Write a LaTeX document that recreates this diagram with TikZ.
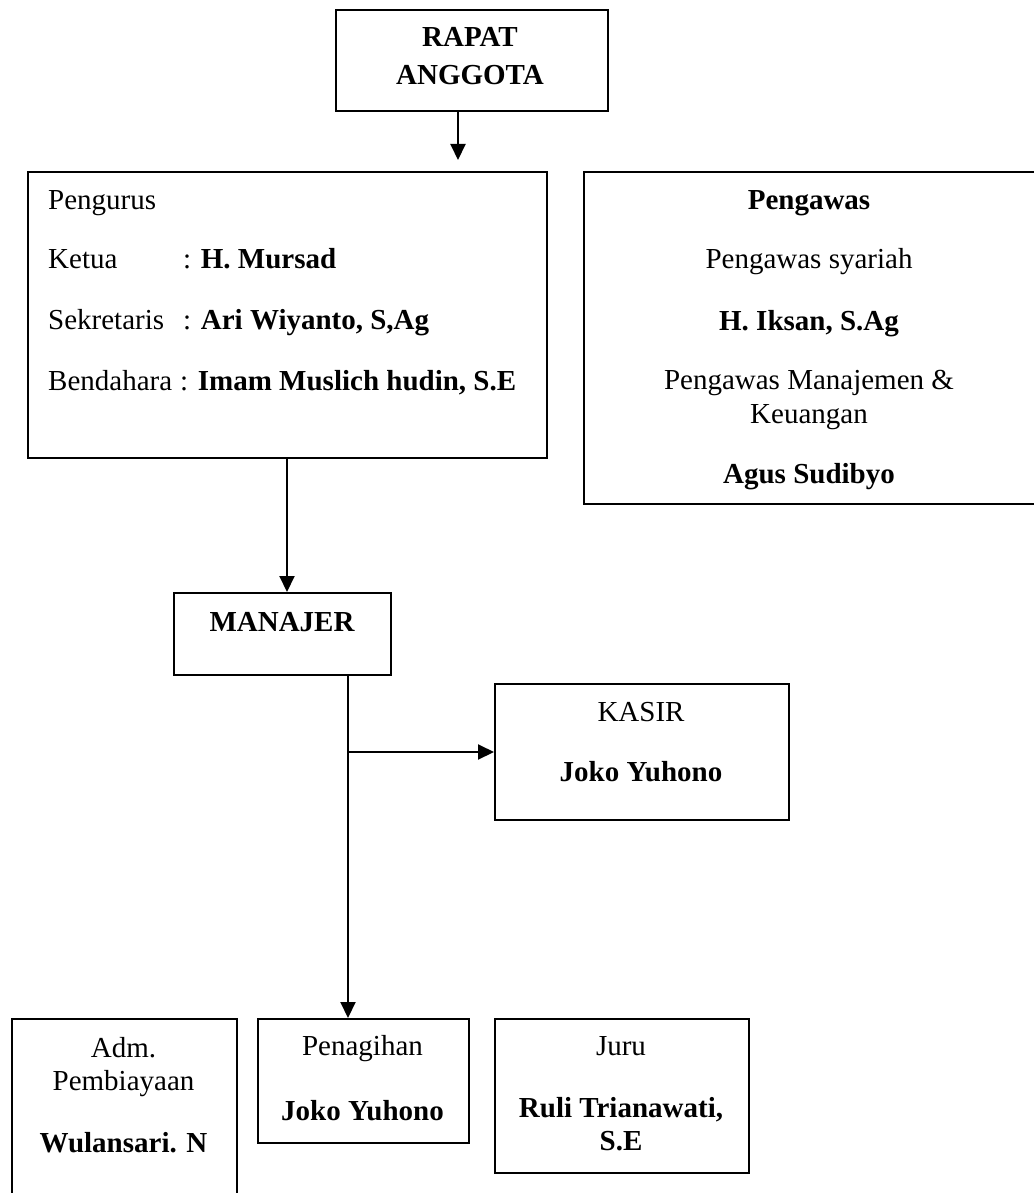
\documentclass[tikz,border=0pt]{standalone}
\usepackage{fontspec}
\setmainfont{Liberation Serif}
\usetikzlibrary{arrows.meta}
\begin{document}
\begin{tikzpicture}[x=1pt,y=-1pt,
  box/.style={draw, line width=2pt, rectangle, inner sep=0pt, anchor=north west},
  txt/.style={anchor=base, inner sep=0pt, font=\fontsize{29}{33.4}\selectfont},
  btxt/.style={txt, font=\fontsize{29}{33.4}\selectfont\bfseries},
  ltxt/.style={txt, anchor=base west},
  arr/.style={line width=2pt, -{Triangle[length=16pt,width=15pt]}}]
\useasboundingbox (0,0) rectangle (1033,1193);
% boxes
\node[box, minimum width=272pt, minimum height=101pt] (rapat) at (335,9) {};
\node[box, minimum width=519pt, minimum height=286pt] (pengurus) at (27,171) {};
\node[box, minimum width=452pt, minimum height=332pt] (pengawas) at (583,171) {};
\node[box, minimum width=217pt, minimum height=82pt] (manajer) at (173,592) {};
\node[box, minimum width=294pt, minimum height=136pt] (kasir) at (494,683) {};
\node[box, minimum width=225pt, minimum height=200pt] (adm) at (11,1018) {};
\node[box, minimum width=211pt, minimum height=124pt] (penagihan) at (257,1018) {};
\node[box, minimum width=254pt, minimum height=154pt] (juru) at (494,1018) {};
% texts
\node[btxt] (trapat1) at (470,47) {RAPAT};
\node[btxt] (trapat2) at (470,85) {ANGGOTA};
\node[ltxt] (tpeng) at (48,209) {Pengurus};
\node[ltxt] (tket) at (48,268) {Ketua};
\node[ltxt] (tketv) at (183,268) {: \textbf{H. Mursad}};
\node[ltxt] (tsek) at (48,329) {Sekretaris};
\node[ltxt] (tsekv) at (183,329) {: \textbf{Ari Wiyanto, S,Ag}};
\node[ltxt] (tben) at (48,390) {Bendahara};
\node[ltxt] (tbenv) at (180,390) {: \textbf{Imam Muslich hudin, S.E}};
\node[btxt] (tpw) at (809,209) {Pengawas};
\node[txt] (tpws) at (809,268) {Pengawas syariah};
\node[btxt] (tpwsn) at (809,330) {H. Iksan, S.Ag};
\node[txt] (tpwm1) at (809,389) {Pengawas Manajemen \&};
\node[txt] (tpwm2) at (809,423) {Keuangan};
\node[btxt] (tpwmn) at (809,483) {Agus Sudibyo};
\node[btxt] (tman) at (282,631) {MANAJER};
\node[txt] (tkas) at (641,721) {KASIR};
\node[btxt] (tkasn) at (641,781) {Joko Yuhono};
\node[txt] (tadm1) at (123.5,1057) {Adm.};
\node[txt] (tadm2) at (123.5,1090) {Pembiayaan};
\node[btxt] (tadmn) at (123.5,1152) {Wulansari. N};
\node[txt] (tpen) at (362.5,1055) {Penagihan};
\node[btxt] (tpenn) at (362.5,1120) {Joko Yuhono};
\node[txt] (tjur) at (621,1055) {Juru};
\node[btxt] (tjurn1) at (621,1117) {Ruli Trianawati,};
\node[btxt] (tjurn2) at (621,1150) {S.E};
% connectors
\coordinate (a1end) at (458,160);
\draw[arr] (rapat.south -| a1end) -- (a1end);
\coordinate (x287) at (287,0);
\draw[arr] (pengurus.south -| x287) -- (manajer.north -| x287);
\coordinate (x348) at (348,0);
\draw[arr] (manajer.south -| x348) -- (penagihan.north -| x348);
\coordinate (br) at (348,752);
\draw[arr] (br) -- (kasir.west |- br);
\end{tikzpicture}
\end{document}
